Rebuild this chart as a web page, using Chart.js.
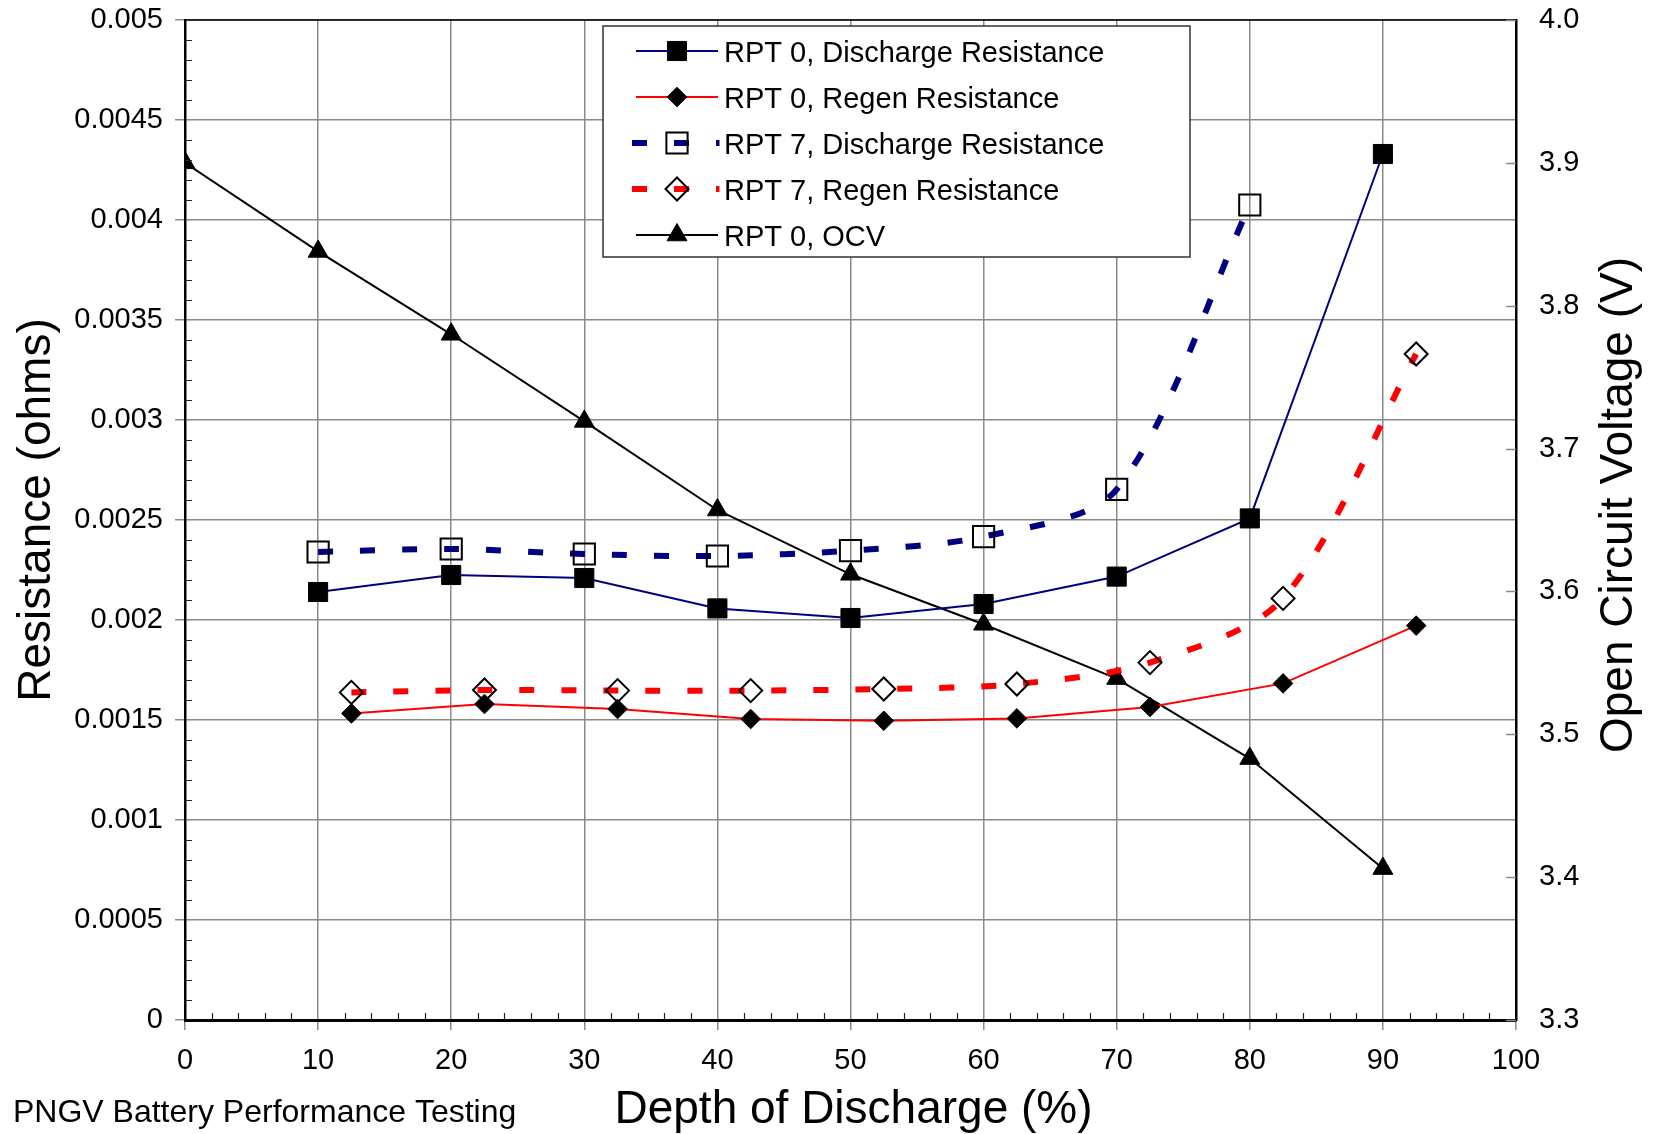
<!DOCTYPE html>
<html><head><meta charset="utf-8">
<script src="https://cdn.jsdelivr.net/npm/chart.js@4/dist/chart.umd.min.js"></script>
<style>html,body{margin:0;padding:0;background:#fff;}canvas{display:block;}</style>
</head><body>
<canvas id="c" width="1657" height="1134"></canvas>
<script>
// ---- data ----
const ocvDod   = [0, 10, 20, 30, 40, 50, 60, 70, 80, 90];
const ocv      = [3.900, 3.838, 3.780, 3.719, 3.657, 3.612, 3.577, 3.539, 3.483, 3.406];
const dis0Dod  = [10, 20, 30, 40, 50, 60, 70, 80, 90];
const dis0     = [0.00214, 0.002225, 0.00221, 0.002058, 0.00201, 0.00208, 0.002217, 0.002508, 0.00433];
const dis7Dod  = [10, 20, 30, 40, 50, 60, 70, 80];
const dis7     = [0.00234, 0.002355, 0.00233, 0.00232, 0.002347, 0.002417, 0.002653, 0.004075];
const regenDod = [12.5, 22.5, 32.5, 42.5, 52.5, 62.5, 72.5, 82.5, 92.5];
const regen0   = [0.001533, 0.00158, 0.001555, 0.001505, 0.001496, 0.001508, 0.001565, 0.001683, 0.001972];
const regen7   = [0.001638, 0.00165, 0.001647, 0.001647, 0.001655, 0.00168, 0.001787, 0.002108, 0.00333];
const seriesNames = ['RPT 0, Discharge Resistance', 'RPT 0, Regen Resistance', 'RPT 7, Discharge Resistance', 'RPT 7, Regen Resistance', 'RPT 0, OCV'];
const xTitle = 'Depth of Discharge (%)';
const yTitle = 'Resistance (ohms)';
const y2Title = 'Open Circuit Voltage (V)';
const footer = 'PNGV Battery Performance Testing';

const FONT = "'Liberation Sans', Arial, Helvetica, sans-serif";
Chart.defaults.font.family = FONT;
Chart.defaults.color = '#000';

function pts(xs, ys) { return xs.map((x, i) => ({ x: x, y: ys[i] })); }

const NAVY = '#000080', RED = '#ff0000', GRID = '#8a8a8a';
const DASH = [15, 27];

const datasets = [
  { label: seriesNames[0], data: pts(dis0Dod, dis0), yAxisID: 'y', borderColor: NAVY, borderWidth: 2,
    pointStyle: 'rect', pointRadius: 13.5, pointBackgroundColor: '#000', pointBorderColor: '#000', pointBorderWidth: 1, tension: 0 },
  { label: seriesNames[1], data: pts(regenDod, regen0), yAxisID: 'y', borderColor: RED, borderWidth: 2,
    pointStyle: 'rectRot', pointRadius: 9.8, pointBackgroundColor: '#000', pointBorderColor: '#000', pointBorderWidth: 1, tension: 0 },
  { label: seriesNames[2], data: pts(dis7Dod, dis7), yAxisID: 'y', borderColor: NAVY, borderWidth: 6, borderDash: DASH,
    pointStyle: 'rect', pointRadius: 15, pointBackgroundColor: 'rgba(0,0,0,0)', pointBorderColor: '#000', pointBorderWidth: 2, tension: 0.3 },
  { label: seriesNames[3], data: pts(regenDod, regen7), yAxisID: 'y', borderColor: RED, borderWidth: 6, borderDash: DASH,
    pointStyle: 'rectRot', pointRadius: 11.5, pointBackgroundColor: 'rgba(0,0,0,0)', pointBorderColor: '#000', pointBorderWidth: 2, tension: 0.3 },
  { label: seriesNames[4], data: pts(ocvDod, ocv), yAxisID: 'y1', borderColor: '#000', borderWidth: 2,
    pointStyle: 'triangle', pointRadius: 11.5, pointBackgroundColor: '#000', pointBorderColor: '#000', pointBorderWidth: 1, tension: 0 }
];

function drawMarker(ctx, ds, x, y) {
  const opts = { pointStyle: ds.pointStyle, radius: ds.pointRadius, rotation: 0, borderWidth: ds.pointBorderWidth };
  ctx.save();
  ctx.fillStyle = ds.pointBackgroundColor;
  ctx.strokeStyle = ds.pointBorderColor;
  ctx.lineWidth = ds.pointBorderWidth;
  ctx.setLineDash([]);
  Chart.helpers.drawPoint(ctx, opts, x, y);
  ctx.restore();
}

function noPad(s) { s.paddingTop = 0; s.paddingBottom = 0; s.paddingLeft = 0; s.paddingRight = 0; }

const decor = {
  id: 'decor',
  afterDraw(chart) {
    const ctx = chart.ctx;
    const ca = chart.chartArea;
    const sx = chart.scales.x, sy = chart.scales.y, sy1 = chart.scales.y1;
    ctx.save();
    // top border
    ctx.strokeStyle = '#000'; ctx.lineWidth = 1.5;
    ctx.beginPath(); ctx.moveTo(ca.left, ca.top); ctx.lineTo(ca.right, ca.top); ctx.stroke();
    // minor ticks (inside)
    ctx.strokeStyle = '#222'; ctx.lineWidth = 1.2;
    ctx.beginPath();
    for (let v = 0; v <= 100; v += 2) {
      if (v % 10 === 0) continue;
      const px = Math.round(sx.getPixelForValue(v)) + 0.5;
      ctx.moveTo(px, ca.bottom); ctx.lineTo(px, ca.bottom - 7);
    }
    for (let i = 0; i <= 50; i++) {
      if (i % 5 === 0) continue;
      const py = Math.round(sy.getPixelForValue(i * 0.0001)) + 0.5;
      ctx.moveTo(ca.left, py); ctx.lineTo(ca.left + 7, py);
    }
    ctx.stroke();
    // right axis major ticks (inside)
    ctx.strokeStyle = GRID; ctx.lineWidth = 1.5;
    ctx.beginPath();
    for (let i = 0; i <= 7; i++) {
      const py = Math.round(sy1.getPixelForValue(3.3 + i * 0.1)) + 0.5;
      ctx.moveTo(ca.right - 10, py); ctx.lineTo(ca.right, py);
    }
    ctx.stroke();

    // axis titles
    ctx.fillStyle = '#000';
    ctx.font = '46px ' + FONT;
    ctx.textAlign = 'center'; ctx.textBaseline = 'alphabetic';
    ctx.fillText(xTitle, (ca.left + ca.right) / 2 + 3, 1123);
    ctx.save(); ctx.translate(50, 510); ctx.rotate(-Math.PI / 2); ctx.fillText(yTitle, 0, 0); ctx.restore();
    ctx.save(); ctx.translate(1632, 505); ctx.rotate(-Math.PI / 2); ctx.fillText(y2Title, 0, 0); ctx.restore();
    // footer
    ctx.font = '32px ' + FONT; ctx.textAlign = 'left';
    ctx.fillText(footer, 13, 1122);

    // legend
    const bx = 603, by = 26, bw = 587, bh = 231;
    ctx.fillStyle = '#fff'; ctx.fillRect(bx, by, bw, bh);
    ctx.strokeStyle = '#333'; ctx.lineWidth = 1.5; ctx.strokeRect(bx, by, bw, bh);
    const rows = [51, 97, 143, 189, 235];
    chart.data.datasets.forEach((ds, i) => {
      const ry = rows[i];
      ctx.save();
      ctx.strokeStyle = ds.borderColor; ctx.lineWidth = ds.borderWidth; ctx.lineCap = 'butt';
      ctx.beginPath();
      if (ds.borderDash) { ctx.setLineDash(ds.borderDash); ctx.moveTo(632, ry); ctx.lineTo(719.5, ry); }
      else { ctx.moveTo(636, ry); ctx.lineTo(718, ry); }
      ctx.stroke();
      ctx.restore();
      drawMarker(ctx, ds, 677, ry);
      ctx.fillStyle = '#000'; ctx.font = '29px ' + FONT; ctx.textAlign = 'left'; ctx.textBaseline = 'alphabetic';
      ctx.fillText(ds.label, 724, ry + 10.5);
    });
    ctx.restore();
  }
};

new Chart(document.getElementById('c'), {
  type: 'line',
  data: { datasets: datasets },
  plugins: [decor],
  options: {
    responsive: false, animation: false, devicePixelRatio: 1,
    layout: { padding: { top: 20, left: 0, right: 0, bottom: 0 } },
    plugins: { legend: { display: false }, tooltip: { enabled: false } },
    scales: {
      x: {
        type: 'linear', min: 0, max: 100,
        ticks: { stepSize: 10, font: { size: 29 }, padding: 14, color: '#000', maxRotation: 0 },
        grid: { color: GRID, lineWidth: 1.5, tickLength: 10 },
        border: { display: true, color: '#000', width: 3 },
        afterFit: s => { s.height = 114; noPad(s); }
      },
      y: {
        position: 'left', min: 0, max: 0.005,
        ticks: { stepSize: 0.0005, font: { size: 29 }, padding: 12, color: '#000',
                 callback: v => String(+(+v).toFixed(4)) },
        grid: { color: GRID, lineWidth: 1.5, tickLength: 10 },
        border: { display: true, color: '#000', width: 2.5 },
        afterFit: s => { s.width = 185; noPad(s); }
      },
      y1: {
        position: 'right', min: 3.3, max: 4.0,
        ticks: { stepSize: 0.1, font: { size: 29 }, padding: 23, color: '#000',
                 callback: v => (+v).toFixed(1) },
        grid: { drawOnChartArea: false, drawTicks: false, color: GRID },
        border: { display: true, color: '#000', width: 2.5 },
        afterFit: s => { s.width = 141; noPad(s); }
      }
    }
  }
});
</script>
</body></html>
